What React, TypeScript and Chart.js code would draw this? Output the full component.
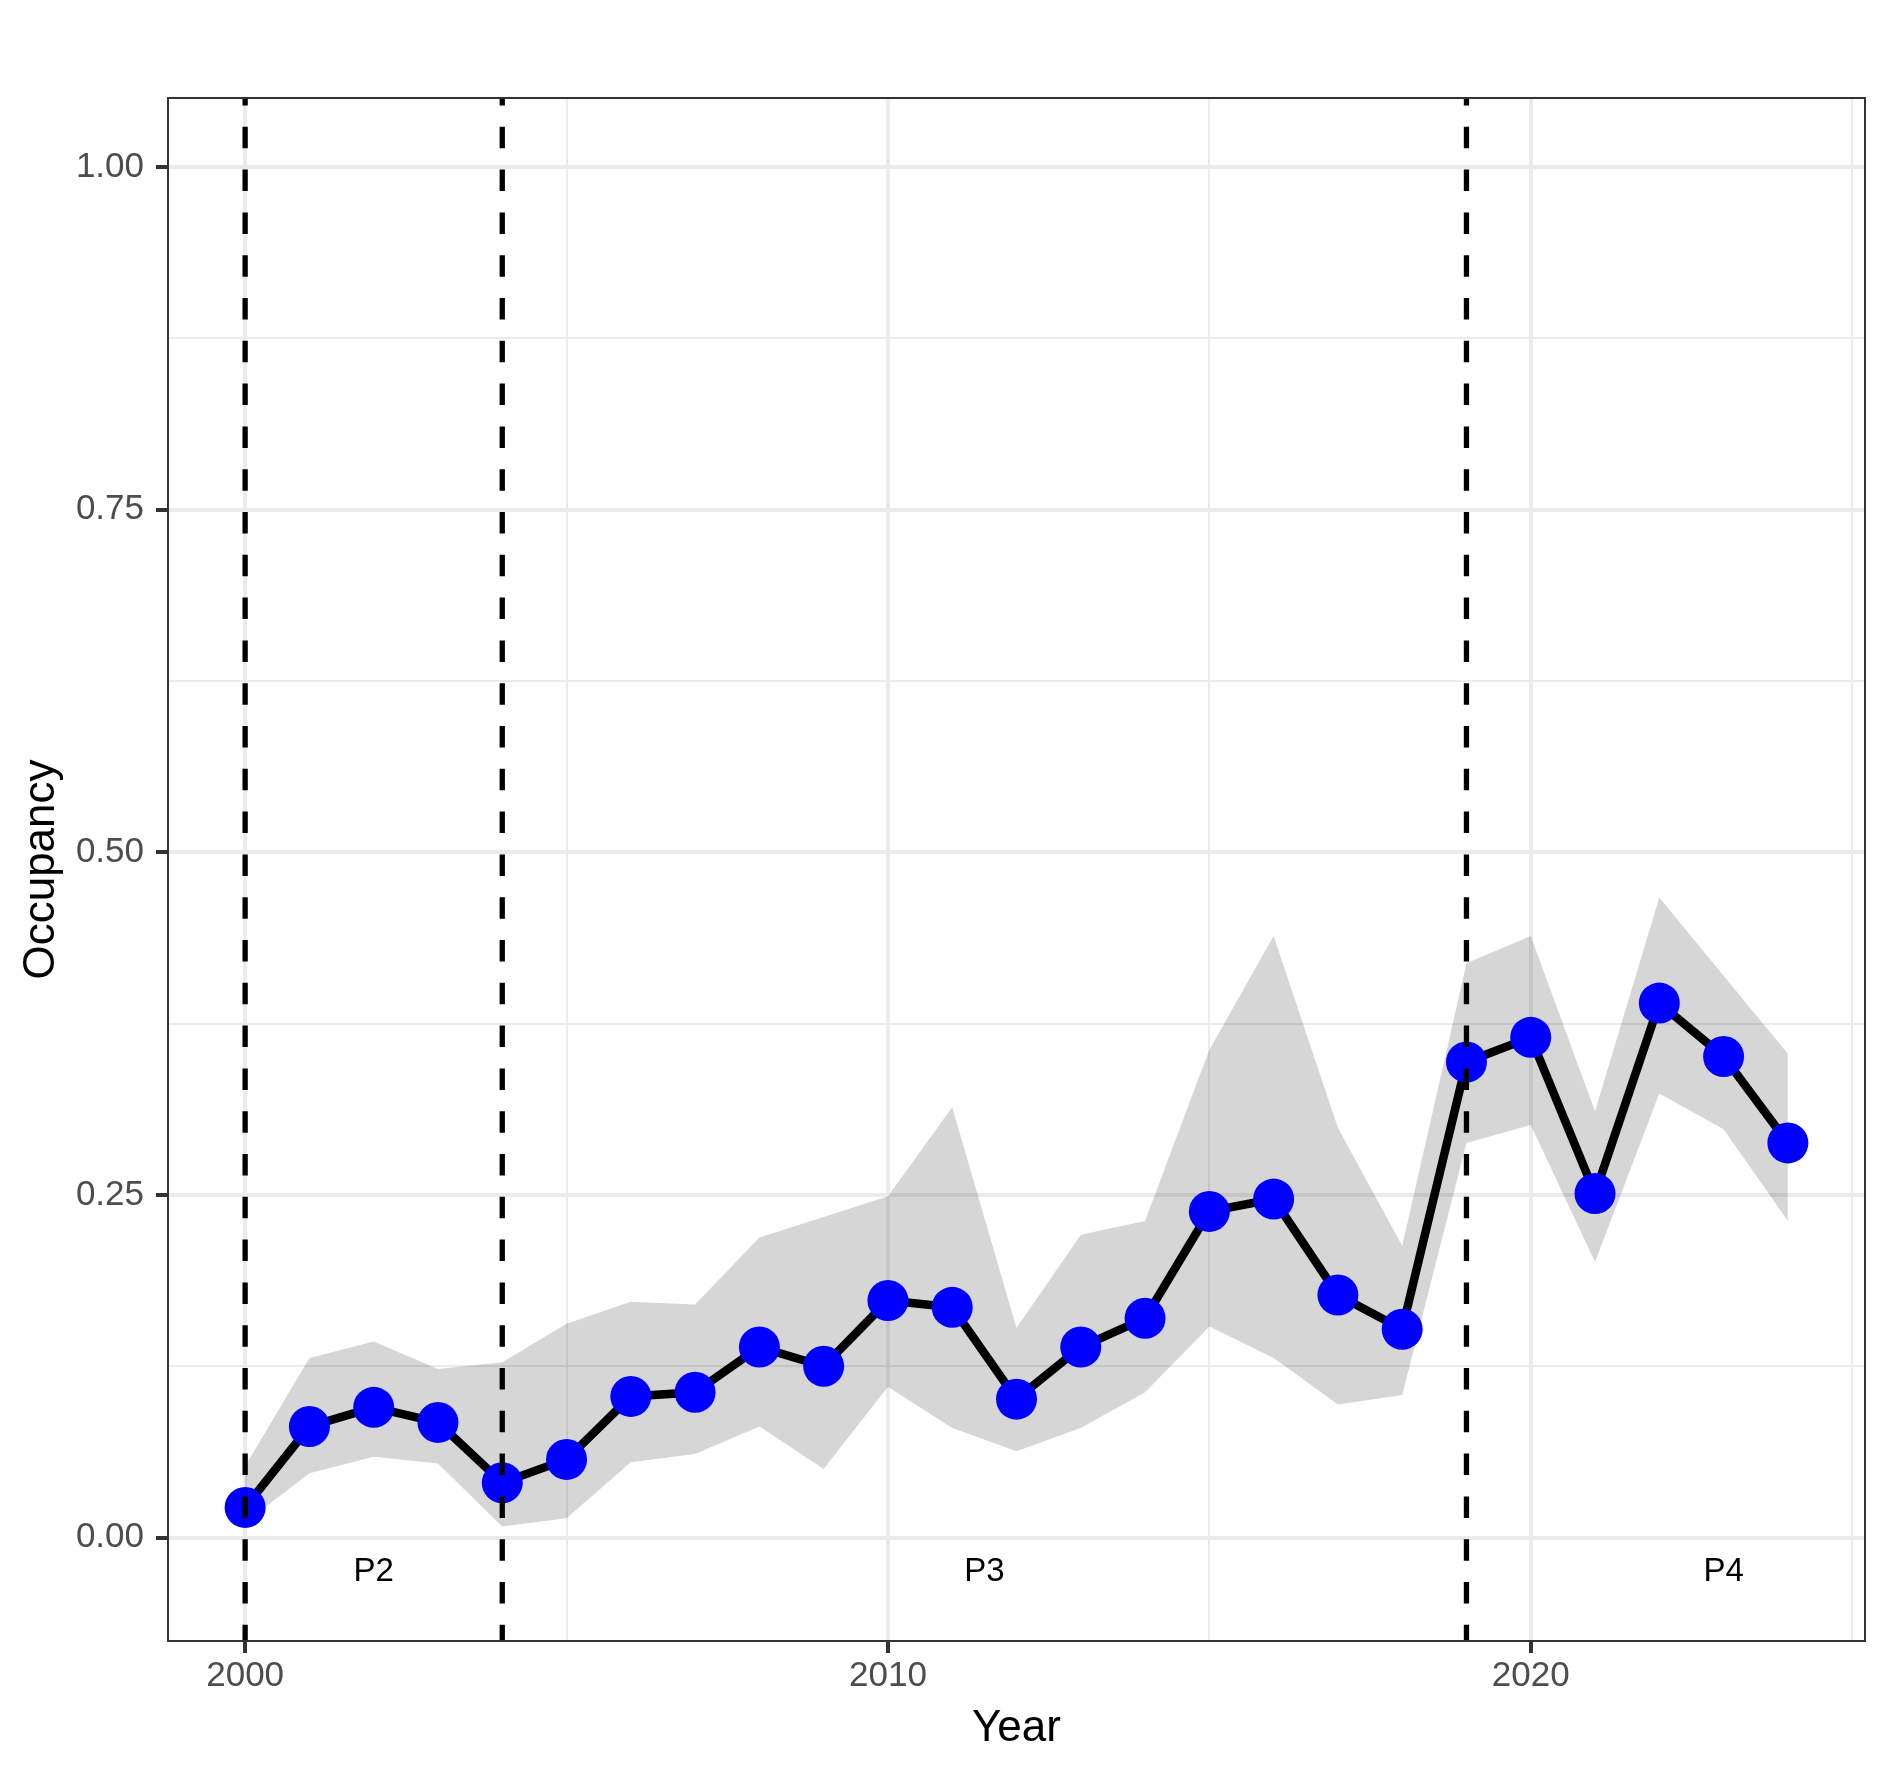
import React, { useEffect, useRef } from 'react';
import { Chart, registerables } from 'chart.js';

Chart.register(...registerables);

const YEARS = [2000, 2001, 2002, 2003, 2004, 2005, 2006, 2007, 2008, 2009, 2010, 2011, 2012, 2013, 2014, 2015, 2016, 2017, 2018, 2019, 2020, 2021, 2022, 2023, 2024];
const OCCUPANCY = [0.022, 0.081, 0.095, 0.084, 0.040, 0.057, 0.103, 0.106, 0.139, 0.125, 0.173, 0.168, 0.101, 0.139, 0.160, 0.238, 0.247, 0.177, 0.152, 0.347, 0.365, 0.251, 0.390, 0.351, 0.288];
const UPPER = [0.052, 0.131, 0.143, 0.123, 0.128, 0.156, 0.172, 0.170, 0.219, 0.234, 0.249, 0.314, 0.153, 0.221, 0.231, 0.356, 0.439, 0.299, 0.213, 0.419, 0.439, 0.311, 0.467, 0.410, 0.353];
const LOWER = [0.011, 0.047, 0.059, 0.054, 0.008, 0.014, 0.055, 0.061, 0.081, 0.050, 0.110, 0.080, 0.063, 0.080, 0.106, 0.154, 0.131, 0.097, 0.104, 0.288, 0.301, 0.201, 0.324, 0.298, 0.231];

const PERIOD_BREAKS = [2000, 2004, 2019];
const PERIOD_LABELS = ['P2', 'P3', 'P4'];
const PERIOD_LABEL_X = [2002, 2011.5, 2023];
const PERIOD_LABEL_Y = -0.025;

const X_TICKS = [2000, 2005, 2010, 2015, 2020, 2025];
const X_MAJOR = [2000, 2010, 2020];
const Y_TICKS = [0, 0.125, 0.25, 0.375, 0.5, 0.625, 0.75, 0.875, 1];
const Y_MAJOR = [0, 0.25, 0.5, 0.75, 1];

const X_MIN = 1998.8;
const X_MAX = 2025.2;
const Y_MIN = -0.0755;
const Y_MAX = 1.0505;

const FONT = "'Liberation Sans', Arial, Helvetica, sans-serif";

const isIn = (arr: number[], v: any) => typeof v === 'number' && arr.some((a) => Math.abs(a - v) < 1e-9);

const panelBorder = {
  id: 'panelBorder',
  afterDatasetsDraw(chart: any) {
    const { ctx, chartArea } = chart;
    const { left, top, right, bottom } = chartArea;
    ctx.save();
    ctx.strokeStyle = '#333333';
    ctx.lineWidth = 2;
    ctx.strokeRect(left, top, right - left, bottom - top);
    ctx.restore();
  },
};

const periodText = {
  id: 'periodText',
  afterDatasetsDraw(chart: any) {
    const { ctx } = chart;
    const xs = chart.scales.x;
    const ys = chart.scales.y;
    ctx.save();
    ctx.fillStyle = '#000000';
    ctx.font = `33px ${FONT}`;
    ctx.textAlign = 'center';
    ctx.textBaseline = 'middle';
    PERIOD_LABELS.forEach((t, i) => {
      ctx.fillText(t, xs.getPixelForValue(PERIOD_LABEL_X[i]), ys.getPixelForValue(PERIOD_LABEL_Y));
    });
    ctx.restore();
  },
};

export default function App() {
  const ref = useRef<HTMLCanvasElement | null>(null);

  useEffect(() => {
    if (!ref.current) return;
    const vlineSets = PERIOD_BREAKS.map((b) => ({
      type: 'line' as const,
      data: [
        { x: b, y: Y_MAX },
        { x: b, y: Y_MIN },
      ],
      borderColor: '#000000',
      borderWidth: 5.3,
      borderDash: [21.5, 21.3],
      borderDashOffset: 14,
      pointRadius: 0,
      fill: false,
      order: 0,
    }));
    const chart = new Chart(ref.current, {
      type: 'line',
      data: {
        datasets: [
          ...vlineSets,
          {
            data: YEARS.map((y, i) => ({ x: y, y: OCCUPANCY[i] })),
            borderColor: '#000000',
            borderWidth: 8.5,
            pointRadius: 20.5,
            pointBackgroundColor: '#0000FF',
            pointBorderColor: '#0000FF',
            pointBorderWidth: 0,
            tension: 0,
            fill: false,
            order: 1,
          },
          {
            data: YEARS.map((y, i) => ({ x: y, y: UPPER[i] })),
            borderWidth: 0,
            borderColor: 'rgba(0,0,0,0)',
            pointRadius: 0,
            backgroundColor: 'rgba(0,0,0,0.16)',
            fill: '+1',
            tension: 0,
            order: 2,
          },
          {
            data: YEARS.map((y, i) => ({ x: y, y: LOWER[i] })),
            borderWidth: 0,
            borderColor: 'rgba(0,0,0,0)',
            pointRadius: 0,
            fill: false,
            tension: 0,
            order: 3,
          },
        ] as any,
      },
      options: {
        responsive: false,
        devicePixelRatio: 1,
        animation: false,
        layout: { padding: { left: 0, top: 98, right: 24, bottom: 0 } },
        plugins: { legend: { display: false }, tooltip: { enabled: false } },
        scales: {
          x: {
            type: 'linear',
            min: X_MIN,
            max: X_MAX,
            afterBuildTicks: (scale: any) => {
              scale.ticks = X_TICKS.map((v) => ({ value: v }));
            },
            afterFit: (scale: any) => {
              scale.height = 130;
            },
            border: { display: false },
            grid: {
              color: '#EBEBEB',
              lineWidth: (c: any) => (isIn(X_MAJOR, c.tick?.value) ? 4 : 2),
              tickColor: (c: any) => (isIn(X_MAJOR, c.tick?.value) ? '#333333' : 'rgba(0,0,0,0)'),
              tickWidth: 4,
              tickLength: 12,
              drawTicks: true,
            },
            ticks: {
              autoSkip: false,
              maxRotation: 0,
              minRotation: 0,
              padding: 2,
              color: '#4D4D4D',
              font: { family: FONT, size: 35 },
              callback: (v: any) => (isIn(X_MAJOR, v) ? String(v) : ''),
            },
            title: {
              display: true,
              text: 'Year',
              color: '#000000',
              font: { family: FONT, size: 44 },
              padding: { top: 0, bottom: 16 },
            },
          },
          y: {
            type: 'linear',
            min: Y_MIN,
            max: Y_MAX,
            afterBuildTicks: (scale: any) => {
              scale.ticks = Y_TICKS.map((v) => ({ value: v }));
            },
            afterFit: (scale: any) => {
              scale.width = 168;
            },
            border: { display: false },
            grid: {
              color: '#EBEBEB',
              lineWidth: (c: any) => (isIn(Y_MAJOR, c.tick?.value) ? 4 : 2),
              tickColor: (c: any) => (isIn(Y_MAJOR, c.tick?.value) ? '#333333' : 'rgba(0,0,0,0)'),
              tickWidth: 4,
              tickLength: 12,
              drawTicks: true,
            },
            ticks: {
              autoSkip: false,
              padding: 12,
              color: '#4D4D4D',
              font: { family: FONT, size: 35 },
              callback: (v: any) => (isIn(Y_MAJOR, v) ? Number(v).toFixed(2) : ''),
            },
            title: {
              display: true,
              text: 'Occupancy',
              color: '#000000',
              font: { family: FONT, size: 44 },
              padding: { top: 15, bottom: 0 },
            },
          },
        },
      } as any,
      plugins: [periodText, panelBorder],
    });
    return () => chart.destroy();
  }, []);

  return (
    <div style={{ position: 'absolute', left: 0, top: 0, width: 1889, height: 1771, background: '#ffffff' }}>
      <canvas ref={ref} width={1889} height={1771} style={{ display: 'block', width: 1889, height: 1771 }} />
    </div>
  );
}
